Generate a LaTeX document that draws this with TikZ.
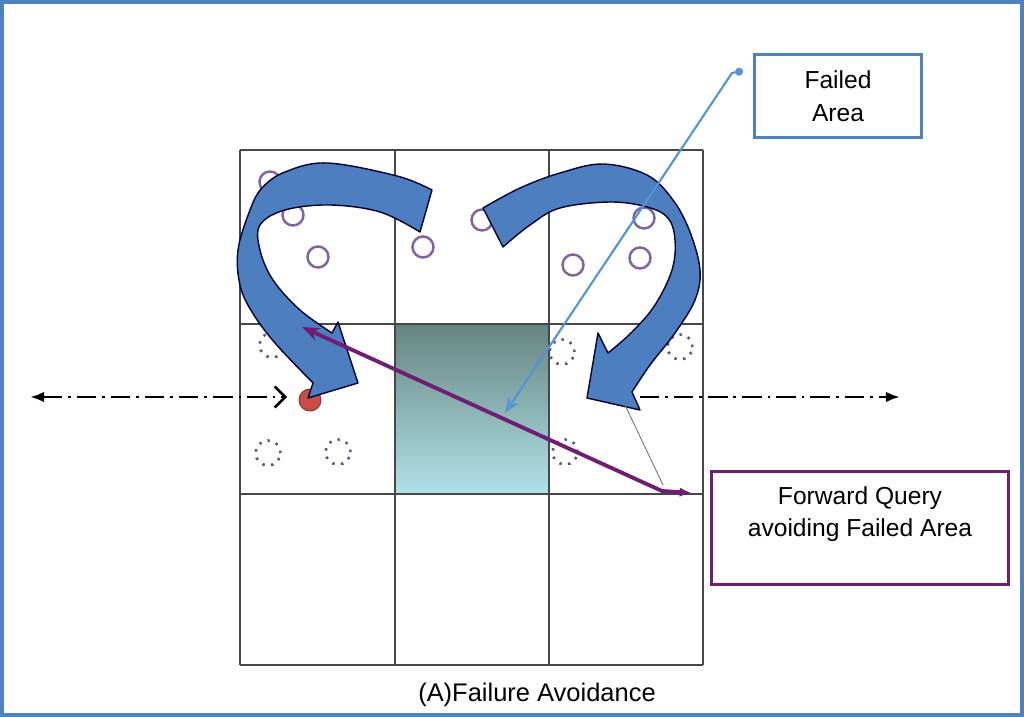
\documentclass[tikz,border=0pt]{standalone}
\usepackage{fontspec}
\setmainfont{Liberation Sans}
\usetikzlibrary{positioning, arrows.meta, calc}

\definecolor{frameblue}{RGB}{79,129,189}
\definecolor{arrowblue}{RGB}{76,126,192}
\definecolor{pinblue}{RGB}{86,146,214}
\definecolor{querypurple}{RGB}{112,30,116}
\definecolor{ringpurple}{RGB}{128,100,162}
\definecolor{dotpurple}{RGB}{96,84,140}
\definecolor{failred}{RGB}{200,78,70}

\tikzset{
  gridline/.style={draw=black!72, line width=1.4pt},
  ring/.style={draw=ringpurple, line width=1.4pt},
  dotring/.style={draw=dotpurple, line width=1.5pt, dash pattern=on 1.4pt off 3.6pt},
  bigarrow/.style={fill=arrowblue, draw=black!80!blue, line width=0.8pt, line join=round},
  flowline/.style={line width=1.5pt, dash pattern=on 11pt off 3.4pt on 1.6pt off 3.4pt},
  labelbox/.style={draw, line width=1.7pt, align=center, font=\fontsize{14}{18.5}\selectfont},
}

\begin{document}
\begin{tikzpicture}[x=0.2mm, y=-0.2mm]
  \useasboundingbox (0,0) rectangle (1024,717);
  % Frame
  \draw[frameblue, line width=2pt] (2,2) rectangle (1022,715);

  % Failed cell
  \shade[top color={rgb,255:red,102;green,132;blue,128}, bottom color={rgb,255:red,176;green,226;blue,232}] (395,324) rectangle (549,494);

  % Grid
  \foreach \gx in {240,395,549,703}
    \draw[gridline] (\gx,150) -- (\gx,665);
  \foreach \gy in {150,324,494,665}
    \draw[gridline] (240,\gy) -- (703,\gy);

  % Nodes of the field
  \foreach \cx/\cy in {270/182, 293/215, 318/257, 423/247, 482/220, 644/218, 573/265, 640/258}
    \draw[ring] (\cx,\cy) circle[radius=0.21cm];
  \foreach \cx/\cy in {272/345, 268/453, 338/452, 562/352, 565/452, 680/347}
    \draw[dotring] (\cx,\cy) circle[radius=0.25cm];
  \draw[fill=failred, draw=failred!70!black, line width=0.6pt] (310,400) circle[radius=0.22cm];

  % Detour arrows
  \draw[bigarrow] plot[smooth, tension=0.6] coordinates {(432,190) (397,176) (327,163) (285,172) (262,188) (250,210) (238,250) (240,285) (252,312) (275,343) (313,383)}
    -- (308,398) -- (358,383) -- (338,322) -- (332,333)
    -- plot[smooth, tension=0.6] coordinates {(332,333) (300,310) (273,280) (260,250) (260,225) (285,210) (330,205) (380,212) (420,232)}
    -- cycle;
  \draw[bigarrow] plot[smooth, tension=0.6] coordinates {(483,208) (520,188) (560,173) (603,164) (647,175) (673,200) (690,232) (700,270) (695,300) (675,333) (650,365) (632,392)}
    -- (640,410) -- (587,398) -- (598,333) -- (608,353)
    -- plot[smooth, tension=0.6] coordinates {(608,353) (632,332) (655,305) (672,270) (675,240) (668,218) (647,207) (610,202) (560,208) (530,225) (503,247)}
    -- cycle;

  % Flow in and out
  \coordinate (inL) at (30,397);
  \coordinate (inR) at (287,397);
  \coordinate (outL) at (640,397);
  \coordinate (outR) at (900,397);
  \draw[flowline, {Latex[length=8pt]}-{Straight Barb[length=6pt]}] (inL) -- (inR);
  \draw[flowline, -{Latex[length=8pt]}] (outL) -- (outR);

  % Labels
  \node[labelbox, draw=frameblue, minimum width=3.34cm, minimum height=1.66cm] (failbox) at (838,96) {Failed\\Area};
  \node[labelbox, draw=querypurple, minimum width=5.94cm, minimum height=2.26cm] (querybox) at (860,528) {Forward Query\\avoiding Failed Area\\ };
  \node[font=\fontsize{14.5}{17}\selectfont] (caption) at (537,695) {(A)Failure Avoidance};

  % Pointers
  \coordinate (failpin) at (743,71);
  \coordinate (failbend) at (732,73);
  \coordinate (failspot) at (505,413);
  \draw[pinblue, line width=1.2pt, {Circle[length=4.5pt]}-{Stealth[length=9pt]}] (failpin) -- (failbend) -- (failspot);

  \coordinate (querystart) at (302,327);
  \coordinate (querybend) at (662,491);
  \coordinate (queryend) at (692,493);
  \draw[querypurple, line width=2.2pt, {Stealth[length=10pt]}-{Latex[length=7pt]}] (querystart) -- (querybend) -- (queryend);

  \coordinate (calltail) at (663,485);
  \coordinate (callhead) at (625,405);
  \draw[black!55, line width=0.5pt] (calltail) -- (callhead);
\end{tikzpicture}
\end{document}
